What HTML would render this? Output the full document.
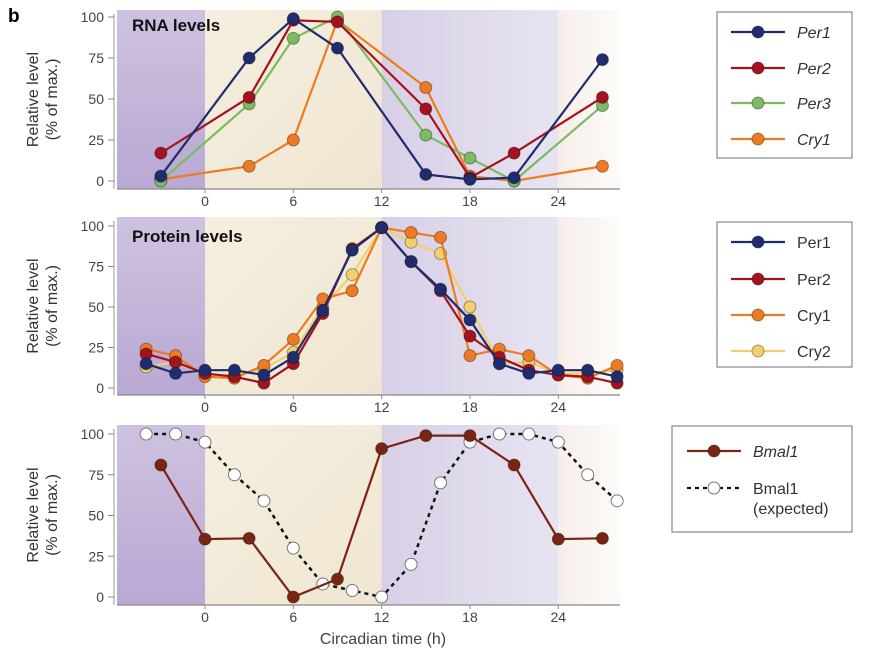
<!DOCTYPE html>
<html><head><meta charset="utf-8"><style>
body{margin:0;background:#fff;}
svg{display:block;font-family:"Liberation Sans",sans-serif;}
</style></head><body>
<svg id="chart" width="869" height="654" viewBox="0 0 869 654" xmlns="http://www.w3.org/2000/svg">
<defs>
<linearGradient id="gPur" x1="0" y1="0" x2="0" y2="1"><stop offset="0" stop-color="#cfc2e0"/><stop offset="1" stop-color="#b9a8d3"/></linearGradient>
<linearGradient id="gCream" x1="0" y1="0" x2="1" y2="1"><stop offset="0" stop-color="#f6efdf"/><stop offset="1" stop-color="#efe6d2"/></linearGradient>
<linearGradient id="gLav" x1="0" y1="0" x2="1" y2="0"><stop offset="0" stop-color="#d8cfe6"/><stop offset="1" stop-color="#e7e4f2"/></linearGradient>
<linearGradient id="gEnd" x1="0" y1="0" x2="1" y2="0"><stop offset="0" stop-color="#f7eeea"/><stop offset="1" stop-color="#fdfbf8"/></linearGradient>
</defs>
<text x="8" y="22" font-size="19" font-weight="bold">b</text>
</svg>
<script>
// ---- data ----
const rnaTimes=[-3,3,6,9,15,18,21,27];
const rnaPer1=[3,75,99,81,4,1,2,74];
const rnaPer2=[17,51,98,97,44,2,17,51];
const rnaPer3=[0,47,87,100,28,14,0,46];
const rnaCry1=[1,9,25,98,57,3,0,9];
const protTimes=[-4,-2,0,2,4,6,8,10,12,14,16,18,20,22,24,26,28];
const protPer1=[15,9,11,11,8,19,48,85,99,78,61,42,15,9,11,11,7];
const protPer2=[21,16,9,7,3,15,46,86,99,78,60,32,19,11,8,7,3];
const protCry1=[24,20,7,6,14,30,55,60,99,96,93,20,24,20,8,6,14];
const protCry2=[13,16,8,8,12,22,50,70,99,90,83,50,15,16,9,9,11];
const bmalTimes=[-3,0,3,6,9,12,15,18,21,24,27];
const bmal1=[81,35.5,36,0,11,91,99,99,81,35.5,36];
const expTimes=[-4,-2,0,2,4,6,8,10,12,14,16,18,20,22,24,26,28];
const bmalExp=[100,100,95,75,59,30,8,4,0,20,70,95,100,100,95,75,59];
const xTicks=[0,6,12,18,24];
const yTicks=[0,25,50,75,100];

const NS="http://www.w3.org/2000/svg";
const svg=document.getElementById('chart');
function mk(tag,attrs,parent){const e=document.createElementNS(NS,tag);for(const k in attrs)e.setAttribute(k,attrs[k]);(parent||svg).appendChild(e);return e;}
const X=t=>205+t*14.72;
const panels=[
 {name:'rna',top:10,bottom:189,y100:17,y0:181,end:620},
 {name:'protein',top:217,bottom:395,y100:226,y0:388,end:620},
 {name:'bmal',top:425,bottom:605,y100:434,y0:597,end:620}
];
panels.forEach((p,i)=>{
 const g=mk('g',{});
 
 
 const Y=v=>p.y0-(p.y0-p.y100)*v/100;
 p.Y=Y;p.g=g;
 const h=p.bottom-p.top;
 mk('rect',{x:117,y:p.top,width:X(0)-117,height:h,fill:'url(#gPur)'},g);
 mk('rect',{x:X(0),y:p.top,width:X(12)-X(0),height:h,fill:'url(#gCream)'},g);
 mk('rect',{x:X(12),y:p.top,width:X(24)-X(12),height:h,fill:'url(#gLav)'},g);
 mk('rect',{x:X(24),y:p.top,width:p.end-X(24),height:h,fill:'url(#gEnd)'},g);
 mk('line',{x1:117,y1:p.bottom,x2:p.end,y2:p.bottom,stroke:'#888','stroke-width':1.2},g);
 mk('line',{x1:114,y1:p.top+4,x2:114,y2:p.bottom,stroke:'#999','stroke-width':1},g);
 yTicks.forEach(v=>{
  mk('line',{x1:108,y1:Y(v),x2:114,y2:Y(v),stroke:'#888'},g);
  const t=mk('text',{x:104,y:Y(v)+5,'text-anchor':'end','font-size':14,fill:'#444'},g);t.textContent=v;
  
  
 });
 xTicks.forEach(v=>{
  mk('line',{x1:X(v),y1:p.bottom,x2:X(v),y2:p.bottom+4,stroke:'#888'},g);
  const t=mk('text',{x:X(v),y:p.bottom+17,'text-anchor':'middle','font-size':14,fill:'#444'},g);t.textContent=v;
  
  
 });
 const cy=(p.top+p.bottom)/2;
 const l1=mk('text',{x:0,y:0,'font-size':16,fill:'#333','text-anchor':'middle',transform:`translate(38,${cy}) rotate(-90)`},g);l1.textContent='Relative level';
 
 
 const l2=mk('text',{x:0,y:0,'font-size':16,fill:'#333','text-anchor':'middle',transform:`translate(57,${cy}) rotate(-90)`},g);l2.textContent='(% of max.)';
 
 
});
function series(p,times,vals,color,name,opts={}){
 const g=mk('g',{},p.g);
 
 
 const pts=times.map((t,i)=>X(t)+','+p.Y(vals[i])).join(' ');
 mk('polyline',{points:pts,fill:'none',stroke:opts.line||color,'stroke-width':opts.dash?2.5:2.2,'stroke-dasharray':opts.dash||'none'},g);
 times.forEach((t,i)=>{mk('circle',{cx:X(t),cy:p.Y(vals[i]),r:6,fill:color,stroke:opts.stroke||'rgba(0,0,0,0.35)','stroke-width':1},g);});
}
const C={per1:'#1f2d6e',per2:'#a5121f',per3:'#7bbb62',cry1:'#ee7b23',cry2:'#f3cf6b',bmal:'#7a2513'};
const P=panels;
series(P[0],rnaTimes,rnaCry1,C.cry1,'series-cry1-rna');
series(P[0],rnaTimes,rnaPer3,C.per3,'series-per3-rna');
series(P[0],rnaTimes,rnaPer2,C.per2,'series-per2-rna');
series(P[0],rnaTimes,rnaPer1,C.per1,'series-per1-rna');
series(P[1],protTimes,protCry2,C.cry2,'series-cry2-protein');
series(P[1],protTimes,protCry1,C.cry1,'series-cry1-protein');
series(P[1],protTimes,protPer2,C.per2,'series-per2-protein');
series(P[1],protTimes,protPer1,C.per1,'series-per1-protein');
series(P[2],expTimes,bmalExp,'#fff','series-bmal1-expected',{line:'#111',dash:'4 4',stroke:'#777'});
series(P[2],bmalTimes,bmal1,C.bmal,'series-bmal1');
function title(p,txt,y){const t=mk('text',{x:132,y:y,'font-size':17,'font-weight':'bold',fill:'#111'},p.g);t.textContent=txt;
 
 }
title(P[0],'RNA levels',31);title(P[1],'Protein levels',242);
const xt=mk('text',{x:383,y:644,'text-anchor':'middle','font-size':16,fill:'#444'});xt.textContent='Circadian time (h)';


// legends
function legend(box,rows,name){
 const g=mk('g',{});
 
 
 mk('rect',{x:box[0],y:box[1],width:box[2],height:box[3],fill:'#fff',stroke:'#888','stroke-width':1.2},g);
 rows.forEach(r=>{
  const e=mk('g',{},g);
  
  
  mk('line',{x1:r.x1,y1:r.y,x2:r.x2,y2:r.y,stroke:r.line||r.c,'stroke-width':2.2,'stroke-dasharray':r.dash||'none'},e);
  mk('circle',{cx:(r.x1+r.x2)/2,cy:r.y,r:6,fill:r.c,stroke:r.stroke||'rgba(0,0,0,0.35)'},e);
  const t=mk('text',{x:r.tx,y:r.y+6,'font-size':16,fill:'#333','font-style':r.it?'italic':'normal'},e);t.textContent=r.t;
  if(r.t2){const t2=mk('text',{x:r.tx,y:r.y+26,'font-size':16,fill:'#333'},e);t2.textContent=r.t2;}
 });
}
legend([717,12,135,146],[
 {y:32,c:C.per1,t:'Per1',it:1,x1:731,x2:785,tx:797},
 {y:68,c:C.per2,t:'Per2',it:1,x1:731,x2:785,tx:797},
 {y:103,c:C.per3,t:'Per3',it:1,x1:731,x2:785,tx:797},
 {y:139,c:C.cry1,t:'Cry1',it:1,x1:731,x2:785,tx:797}],'legend-rna');
legend([717,222,135,145],[
 {y:242,c:C.per1,t:'Per1',x1:731,x2:785,tx:797},
 {y:279,c:C.per2,t:'Per2',x1:731,x2:785,tx:797},
 {y:315,c:C.cry1,t:'Cry1',x1:731,x2:785,tx:797},
 {y:351,c:C.cry2,t:'Cry2',x1:731,x2:785,tx:797}],'legend-protein');
legend([672,426,180,106],[
 {y:451,c:C.bmal,t:'Bmal1',it:1,x1:687,x2:741,tx:753},
 {y:488,c:'#fff',line:'#111',dash:'4 4',stroke:'#777',t:'Bmal1',t2:'(expected)',x1:687,x2:741,tx:753}],'legend-bmal');
</script>
</body></html>
